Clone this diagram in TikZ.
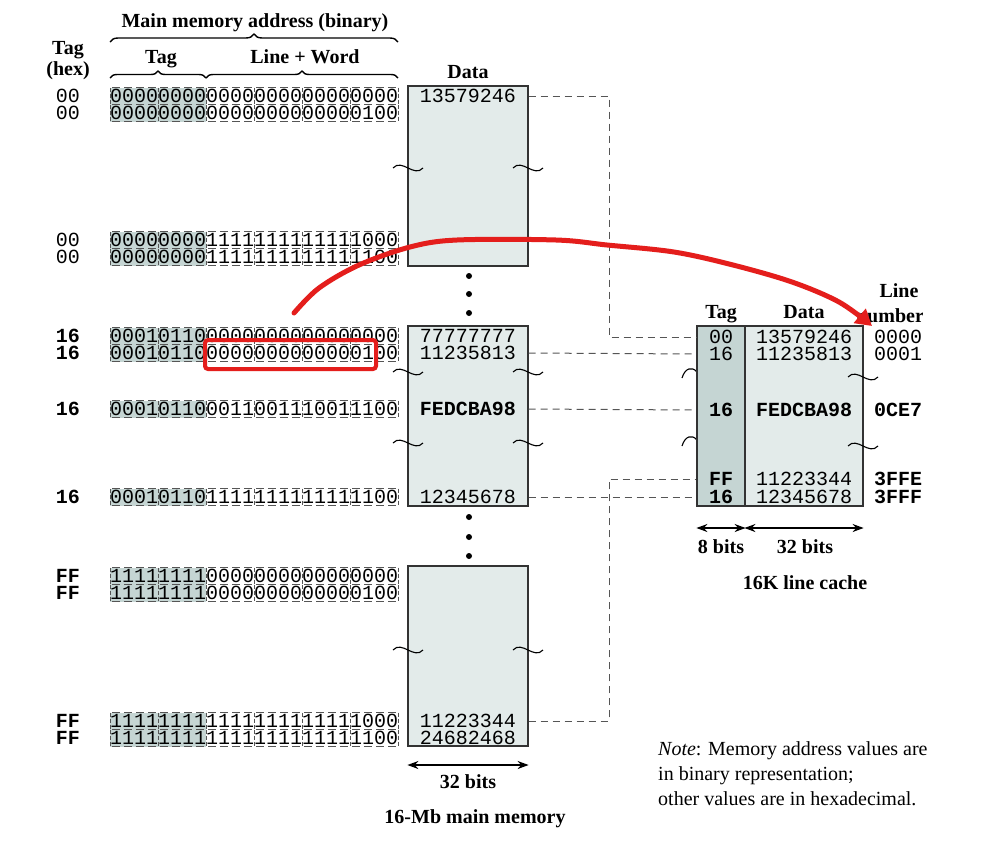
\documentclass[tikz,border=0pt]{standalone}
\usepackage{fontspec}
\setmainfont{Liberation Serif}
\setmonofont{Liberation Mono}
\usetikzlibrary{decorations.pathreplacing,arrows.meta}
\definecolor{tagfill}{HTML}{C5D5D3}
\definecolor{memfill}{HTML}{E3EBEA}
\definecolor{edgec}{HTML}{333333}
\definecolor{dashc}{HTML}{555555}
\definecolor{redc}{HTML}{E41E1C}
\tikzset{
  lbl/.style={font=\fontsize{20}{24}\selectfont\bfseries, inner sep=0pt, anchor=base},
  mono/.style={font=\fontsize{20}{24}\selectfont\ttfamily, inner sep=0pt, text height=13pt, text depth=0pt},
  monob/.style={font=\fontsize{20}{24}\selectfont\ttfamily\bfseries, inner sep=0pt, text height=13pt, text depth=0pt},
  notetxt/.style={font=\fontsize{20}{25}\selectfont, inner sep=0pt, anchor=base west},
  celldash/.style={draw=dashc, line width=0.8pt, dash pattern=on 8pt off 4pt, dash phase=10pt},
  celldashv/.style={draw=dashc, line width=0.8pt, dash pattern=on 4pt off 2pt},
  membox/.style={draw=edgec, fill=memfill, line width=1.2pt, inner sep=0pt, minimum width=120pt, minimum height=180pt},
  tagbox/.style={draw=edgec, fill=tagfill, line width=1.2pt, inner sep=0pt, minimum width=48pt, minimum height=180pt},
  databox/.style={draw=edgec, fill=memfill, line width=1.2pt, inner sep=0pt, minimum width=118pt, minimum height=180pt},
  conn/.style={draw=dashc, line width=1pt, dash pattern=on 7pt off 5pt},
  wave/.style={draw=black, line width=1.1pt},
  bracestyle/.style={draw=black, line width=1.4pt, decorate, decoration={brace, amplitude=8pt}},
  dimarrow/.style={draw=black, line width=1.5pt, {Stealth[length=11pt,width=8pt]}-{Stealth[length=11pt,width=8pt]}},
  redline/.style={draw=redc, line width=5pt, line cap=round, line join=round},
  redbox/.style={draw=redc, line width=4pt, rounded corners=3pt, inner sep=0pt},
}
\newcommand\addrrow[5]{%
  \fill[tagfill] (110,#2-8.5) rectangle (206,#2+8.5);
  \draw[celldash] (110,#2-8.5) -- (398,#2-8.5);
  \draw[celldash] (110,#2+8.5) -- (398,#2+8.5);
  \foreach \g in {0,...,6}{\draw[celldashv] ({110+48*\g},#2-8.5) -- ({110+48*\g},#2+8.5);}
  \node[#3] (#1h) at (68,#2) {#4};
  \node[mono, anchor=west] (#1b) at (110,#2) {#5};
}
\newcommand\wavemark[2]{\draw[wave] (#1-15,#2) .. controls (#1-6,#2-10) and (#1+6,#2+10) .. (#1+15,#2);}
\begin{document}
\begin{tikzpicture}[x=1pt,y=-1pt]
\useasboundingbox (0,0) rectangle (985,844);
\fill[white] (0,0) rectangle (985,844);

% headers
\node[lbl] (title) at (255,27) {Main memory address (binary)};
\node[lbl] (tagsub) at (161,63) {Tag};
\node[lbl] (lwsub) at (305,63) {Line + Word};
\node[lbl] (taghex1) at (68,54) {Tag};
\node[lbl] (taghex2) at (68,75) {(hex)};
\node[lbl] (mdata) at (468,78) {Data};
\coordinate (brA) at (110,42);
\coordinate (brB) at (398,42);
\coordinate (brC) at (110,78);
\coordinate (brD) at (206,78);
\coordinate (brE) at (398,78);
\draw[bracestyle] (brA) -- (brB);
\draw[bracestyle, decoration={brace, amplitude=7pt}] (brC) -- (brD);
\draw[bracestyle, decoration={brace, amplitude=7pt}] (brD) -- (brE);

% address rows
\addrrow{a1}{96}{mono}{00}{000000000000000000000000}
\addrrow{a2}{113}{mono}{00}{000000000000000000000100}
\addrrow{a3}{240}{mono}{00}{000000001111111111111000}
\addrrow{a4}{257}{mono}{00}{000000001111111111111100}
\addrrow{a5}{336}{monob}{16}{000101100000000000000000}
\addrrow{a6}{353}{monob}{16}{000101100000000000000100}
\addrrow{a7}{409}{monob}{16}{000101100011001110011100}
\addrrow{a8}{497}{monob}{16}{000101101111111111111100}
\addrrow{a9}{576}{monob}{FF}{111111110000000000000000}
\addrrow{a10}{593}{monob}{FF}{111111110000000000000100}
\addrrow{a11}{721}{monob}{FF}{111111111111111111111000}
\addrrow{a12}{738}{monob}{FF}{111111111111111111111100}

% main memory boxes
\node[membox] (mem1) at (468,176) {};
\node[membox] (mem2) at (468,416) {};
\node[membox] (mem3) at (468,656) {};
\node[mono] (v1) at (468,96) {13579246};
\node[mono] (v2) at (468,336) {77777777};
\node[mono] (v3) at (468,353) {11235813};
\node[monob] (v4) at (468,409) {FEDCBA98};
\node[mono] (v5) at (468,497) {12345678};
\node[mono] (v6) at (468,721) {11223344};
\node[mono] (v7) at (468,738) {24682468};
\wavemark{408}{168}\wavemark{528}{168}
\wavemark{408}{372}\wavemark{528}{372}
\wavemark{408}{443}\wavemark{528}{443}
\wavemark{408}{650}\wavemark{528}{650}
\foreach \yy in {276,294,313,517,537,556}{\fill (469,\yy) circle (3pt);}

% main memory width
\coordinate (arrm) at (0,765);
\draw[dimarrow] (mem3.west |- arrm) -- (mem3.east |- arrm);
\node[lbl] (m32) at (468,788) {32 bits};
\node[lbl] (mcap) at (475,823) {16-Mb main memory};

% cache
\draw[wave] (682,378) .. controls (685,368) and (692,366) .. (697,372);
\draw[wave] (682,446) .. controls (685,436) and (692,434) .. (697,440);
\node[tagbox] (ctag) at (721,416) {};
\node[databox] (cdata) at (804,416) {};
\wavemark{863}{377}\wavemark{863}{446}
\node[lbl] (ctaghd) at (721,318) {Tag};
\node[lbl] (cdatahd) at (804,318) {Data};
\node[lbl] (linehd) at (899,297) {Line};
\begin{scope}
\clip (0,0) rectangle (922,844);
\node[lbl] (numhd) at (890,322) {number};
\end{scope}
\node[mono] (c1) at (721,337) {00};
\node[mono] (c2) at (721,354) {16};
\node[monob] (c3) at (721,410) {16};
\node[monob] (c4) at (721,479) {FF};
\node[monob] (c5) at (721,497) {16};
\node[mono] (d1) at (804,337) {13579246};
\node[mono] (d2) at (804,354) {11235813};
\node[monob] (d3) at (804,410) {FEDCBA98};
\node[mono] (d4) at (804,479) {11223344};
\node[mono] (d5) at (804,497) {12345678};
\node[mono] (l1) at (898,337) {0000};
\node[mono] (l2) at (898,354) {0001};
\node[monob] (l3) at (898,410) {0CE7};
\node[monob] (l4) at (898,479) {3FFE};
\node[monob] (l5) at (898,497) {3FFF};
\coordinate (arrc) at (0,528);
\draw[dimarrow] (ctag.west |- arrc) -- (ctag.east |- arrc);
\draw[dimarrow] (cdata.west |- arrc) -- (cdata.east |- arrc);
\node[lbl] (c8) at (721,553) {8 bits};
\node[lbl] (c32) at (805,553) {32 bits};
\node[lbl] (ccap) at (805,589) {16K line cache};

% connectors
\coordinate (j1) at (609,337);
\coordinate (j2) at (609,479);
\draw[conn] (mem1.east |- v1) -| (j1) -- (ctag.west |- c1);
\draw[conn] (mem2.east |- v3) -- (ctag.west |- c2);
\draw[conn] (mem2.east |- v4) -- (ctag.west |- c3);
\draw[conn] (mem2.east |- v5) -- (ctag.west |- c5);
\draw[conn] (mem3.east |- v6) -| (j2) -- (ctag.west |- c4);

% note
\node[notetxt] (note1) at (658,755) {\textit{Note}: Memory address values are};
\node[notetxt] (note2) at (658,780) {in binary representation;};
\node[notetxt] (note3) at (658,805) {other values are in hexadecimal.};

% red annotations
\node[redbox, minimum width=171pt, minimum height=29pt] (hl) at (290.5,354.5) {};
\coordinate (rs) at (294,313);
\coordinate (re) at (872,326);
\draw[redline, -{Triangle[length=16pt,width=18pt]}] plot[smooth, tension=0.55] coordinates {(rs) (319,288) (359,265) (410,247) (457,240) (556,240) (607,245) (674,252) (733,265) (792,282) (839,302) (re)};
\end{tikzpicture}
\end{document}
